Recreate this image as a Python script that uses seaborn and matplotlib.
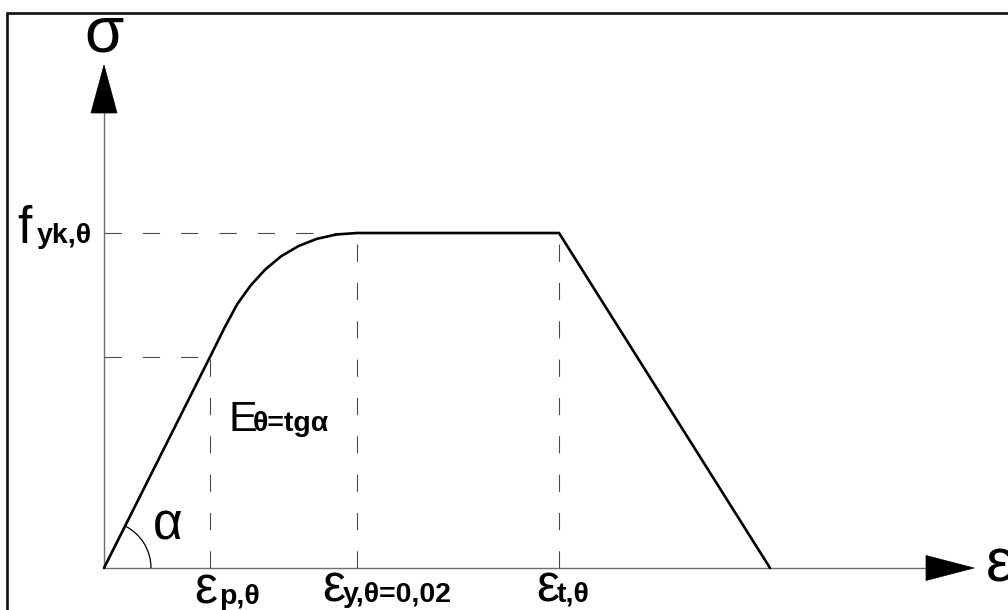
import math

import matplotlib
matplotlib.use("Agg")
import matplotlib.pyplot as plt
from matplotlib.patches import Arc, Rectangle
import pandas as pd
import seaborn as sns

# Idealised stress-strain law of steel at elevated temperature.
# Strain in absolute units (εy,θ = 0.02), stress normalised by f_yk,θ.
eps_p, eps_y, eps_t, eps_u = 0.00838, 0.0200, 0.03597, 0.05265
f_p, f_y = 0.630, 1.0

# Points along the curve: linear branch, rounded transition, plateau, descent
strain = [0.0, eps_p, 0.009565, 0.010530, 0.011597, 0.012759, 0.014008,
          0.015368, 0.016814, 0.018356, eps_y, eps_t, eps_u]
stress = [0.0, f_p, 0.720, 0.7875, 0.8436, 0.8916, 0.9307,
          0.9609, 0.9824, 0.9955, f_y, f_y, 0.0]

W, H = 1008, 610
SX = 0.02 / 253          # strain per pixel
SY = 1.0 / 335           # stress per pixel

sns.set_theme(style="white")
FONT = ["Liberation Sans", "DejaVu Sans"]
plt.rcParams["font.family"] = FONT

fig = plt.figure(figsize=(W / 100, H / 100), dpi=100)
ax = fig.add_axes([0, 0, 1, 1])
ax.set_axis_off()
ax.set_xlim(-104 * SX, (W - 104) * SX)
ax.set_ylim(-(H - 568) * SY, 568 * SY)

# coordinate axes with filled arrow heads
axis_grey = "#6e6e6e"
y_tip, y_head = 503 * SY, 48 * SY
x_tip, x_head = 870 * SX, 48 * SX
ax.plot([0, 0], [0, y_tip - y_head], color=axis_grey, lw=1.0, zorder=1)
ax.plot([0, x_tip - x_head], [0, 0], color=axis_grey, lw=1.0, zorder=1)
ax.arrow(0, y_tip - y_head, 0, y_head, width=0, head_width=26 * SX,
         head_length=y_head, length_includes_head=True, fc="black",
         ec="black", lw=0.5, zorder=3)
ax.arrow(x_tip - x_head, 0, x_head, 0, width=0, head_width=25 * SY,
         head_length=x_head, length_includes_head=True, fc="black",
         ec="black", lw=0.5, zorder=3)

# dashed reference lines
dash = dict(color="#4a4a4a", lw=0.8, ls=(0, (15.5, 19.0)), zorder=1)
ax.plot([0, eps_y], [f_y, f_y], **dash)
ax.plot([0, eps_p], [f_p, f_p], **dash)
ax.plot([eps_p, eps_p], [0, f_p], **dash)
ax.plot([eps_y, eps_y], [0, f_y], **dash)
ax.plot([eps_t, eps_t], [0, f_y], **dash)

# the stress-strain curve
curve = pd.DataFrame({"strain": strain, "stress": stress})
sns.lineplot(data=curve, x="strain", y="stress", sort=False, estimator=None,
             color="black", lw=1.9, ax=ax, zorder=4)
ax.lines[-1].set_solid_joinstyle("round")

# angle mark for the elastic slope
alpha_deg = math.degrees(math.atan2(f_p, eps_p))
ax.add_patch(Arc((0, 0), 2 * 47 * SX, 2 * 47 * SY, theta1=0,
                 theta2=alpha_deg, color="black", lw=0.9, zorder=4))

# frame around the drawing
fig.patches.append(Rectangle((7 / W, -0.05), 1.2, 1 - 13.5 / H + 0.05,
                             transform=fig.transFigure, fill=False,
                             ec="#111111", lw=1.9))


def put(x, y, s, size, bold=False, ha="left"):
    fig.text(x / W, 1 - y / H, s, fontsize=size, ha=ha, va="baseline",
             fontweight="bold" if bold else "normal", family=FONT,
             color="black")


MAIN, SUB = 37, 20.5
put(104, 52, "σ", 46, ha="center")
put(986, 582, "ε", 44)
put(17, 243, "f", MAIN)
put(37, 243, "yk,θ", SUB, bold=True)
put(153, 539, "α", MAIN)
put(228, 431, "E", 31)
put(253, 431, "θ=tgα", SUB, bold=True)
put(194, 604, "ε", MAIN)
put(219, 604, "p,θ", SUB, bold=True)
put(322, 602, "ε", MAIN)
put(343, 602, "y,θ=0,02", SUB, bold=True)
put(536, 602, "ε", MAIN)
put(557, 602, "t,θ", SUB, bold=True)

fig.savefig("out.png", dpi=100)
